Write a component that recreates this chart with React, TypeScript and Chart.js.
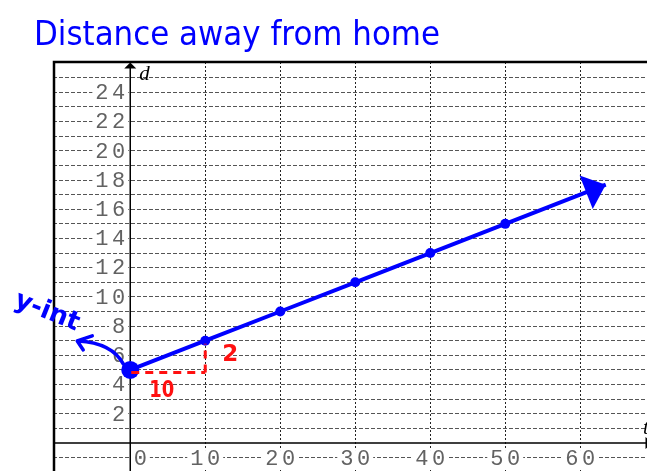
import { useEffect, useRef } from "react";
import { Chart, registerables } from "chart.js";

Chart.register(...registerables);

// ---- data ----
const times = [0, 10, 20, 30, 40, 50];
const distances = [5, 7, 9, 11, 13, 15];
const arrowTipT = 63.4;
const arrowTipD = 17.68;
const pointSizes = [9, 5, 5, 5, 5, 5, 0];

const xGridValues = [10, 20, 30, 40, 50, 60];
const xTickLabels = [0, 10, 20, 30, 40, 50, 60];
const yGridValues = [-1, 1, 2, 3, 4, 5, 6, 7, 8, 9, 10, 11, 12, 13, 14, 15, 16, 17, 18, 19, 20, 21, 22, 23, 24, 25];
const yTickLabels = [2, 4, 6, 8, 10, 12, 14, 16, 18, 20, 22, 24];

const runStartT = 0;
const runEndT = 10;
const runD = 4.83;
const riseTopD = 6.8;
const runText = "10";
const riseText = "2";

const titleText = "Distance away from home";
const interceptText = "y-int";
const xAxisName = "t";
const yAxisName = "d";

const X_MIN = -10.3;
const X_MAX = 68.9;
const Y_MIN = -1.92;
const Y_MAX = 26.08;

const BLUE = "#0000ff";
const RED = "#ff1010";
const LABEL_GREY = "#626262";

function textWidth(ctx: CanvasRenderingContext2D, s: string, spacing: number) {
  return s.split("").reduce((acc, c) => acc + ctx.measureText(c).width, 0) + spacing * (s.length - 1);
}

function drawSpaced(ctx: CanvasRenderingContext2D, text: string, x: number, y: number, align: "left" | "right" | "center", spacing: number) {
  const total = textWidth(ctx, text, spacing);
  let start = x;
  if (align === "right") start = x - total;
  if (align === "center") start = x - total / 2;
  ctx.textAlign = "left";
  let cx = start;
  for (const c of text.split("")) {
    ctx.fillText(c, cx, y);
    cx += ctx.measureText(c).width + spacing;
  }
}

const overlayPlugin = {
  id: "overlay",
  beforeDatasetsDraw(chart: any) {
    const { ctx, chartArea: a, scales } = chart;
    const xs = scales.x;
    const ys = scales.y;
    const x0 = xs.getPixelForValue(0);
    const y0 = ys.getPixelForValue(0);
    ctx.save();

    // tick labels with white backdrop
    ctx.font = '22px "Liberation Mono"';
    ctx.textBaseline = "middle";
    const spacing = 3.5;
    for (const v of yTickLabels) {
      const py = ys.getPixelForValue(v);
      const s = String(v);
      const w = textWidth(ctx, s, spacing);
      const right = x0 - 5;
      ctx.fillStyle = "#ffffff";
      ctx.fillRect(right - w - 3, py - 8, w + 6, 16);
      ctx.fillStyle = LABEL_GREY;
      drawSpaced(ctx, s, right, py + 1, "right", spacing);
    }
    const ly = ys.getPixelForValue(-1) + 1.5;
    for (const v of xTickLabels) {
      const s = String(v);
      const px = xs.getPixelForValue(v) + (v === 0 ? 10 : 0);
      const w = textWidth(ctx, s, spacing);
      ctx.fillStyle = "#ffffff";
      ctx.fillRect(px - w / 2 - 3, ly - 9, w + 6, 18);
      ctx.fillStyle = LABEL_GREY;
      drawSpaced(ctx, s, px, ly, "center", spacing);
    }

    // axes
    ctx.strokeStyle = "#000000";
    ctx.lineWidth = 1.5;
    ctx.beginPath();
    ctx.moveTo(a.left, y0);
    ctx.lineTo(a.right - 1, y0);
    ctx.moveTo(x0, a.bottom);
    ctx.lineTo(x0, a.top + 4);
    ctx.stroke();
    // y-axis arrow head
    ctx.fillStyle = "#000000";
    ctx.beginPath();
    ctx.moveTo(x0, a.top + 0.5);
    ctx.lineTo(x0 - 6, a.top + 6.5);
    ctx.lineTo(x0 + 6, a.top + 6.5);
    ctx.closePath();
    ctx.fill();
    // x-axis arrow head (mostly off canvas)
    ctx.beginPath();
    ctx.moveTo(a.right - 1.5, y0 - 6);
    ctx.lineTo(a.right + 6, y0);
    ctx.lineTo(a.right - 1.5, y0 + 6);
    ctx.closePath();
    ctx.fill();

    // frame (left and top)
    ctx.lineWidth = 2.5;
    ctx.beginPath();
    ctx.moveTo(a.left + 1, a.bottom);
    ctx.lineTo(a.left + 1, a.top);
    ctx.lineTo(a.right, a.top);
    ctx.stroke();

    // axis names
    ctx.font = 'italic 21px "Liberation Serif"';
    ctx.textAlign = "left";
    ctx.textBaseline = "alphabetic";
    ctx.fillText(yAxisName, x0 + 9, a.top + 18);
    ctx.fillText(xAxisName, a.right - 4, y0 - 9);
    ctx.restore();
  },
  afterDatasetsDraw(chart: any) {
    const { ctx, scales } = chart;
    const xs = scales.x;
    const ys = scales.y;
    ctx.save();

    // arrow head at end of line
    const tipX = xs.getPixelForValue(arrowTipT);
    const tipY = ys.getPixelForValue(arrowTipD);
    const fromX = xs.getPixelForValue(times[1]);
    const fromY = ys.getPixelForValue(distances[1]);
    let dx = tipX - fromX;
    let dy = tipY - fromY;
    const len = Math.hypot(dx, dy);
    dx /= len;
    dy /= len;
    const bx = tipX - dx * 21;
    const by = tipY - dy * 21;
    ctx.fillStyle = BLUE;
    ctx.beginPath();
    ctx.moveTo(tipX, tipY);
    ctx.lineTo(bx - dy * 18, by + dx * 18);
    ctx.lineTo(bx + dy * 18, by - dx * 18);
    ctx.closePath();
    ctx.fill();

    // red run / rise
    const rx0 = xs.getPixelForValue(runStartT);
    const rx1 = xs.getPixelForValue(runEndT);
    const ry = ys.getPixelForValue(runD);
    const rTop = ys.getPixelForValue(riseTopD);
    ctx.strokeStyle = RED;
    ctx.lineWidth = 3;
    ctx.setLineDash([8, 6]);
    ctx.beginPath();
    ctx.moveTo(rx0 + 1, ry);
    ctx.lineTo(rx1, ry);
    ctx.moveTo(rx1, ry);
    ctx.lineTo(rx1, rTop);
    ctx.stroke();
    ctx.setLineDash([]);
    ctx.fillStyle = RED;
    ctx.font = 'bold 23px "DejaVu Sans"';
    ctx.textAlign = "center";
    ctx.textBaseline = "middle";
    ctx.fillText(runText, (rx0 + rx1) / 2 - 6, ry + 19, 25);
    ctx.fillText(riseText, rx1 + 25, (ry + rTop) / 2 - 3);

    // y-intercept annotation
    const ix = xs.getPixelForValue(times[0]);
    const iy = ys.getPixelForValue(distances[0]);
    ctx.strokeStyle = BLUE;
    ctx.lineWidth = 3.5;
    ctx.lineCap = "round";
    ctx.lineJoin = "round";
    ctx.beginPath();
    ctx.moveTo(ix - 7, iy - 6);
    ctx.quadraticCurveTo(ix - 18, iy - 27, ix - 52, iy - 29);
    ctx.moveTo(ix - 38, iy - 34);
    ctx.lineTo(ix - 53, iy - 29);
    ctx.lineTo(ix - 47, iy - 20);
    ctx.stroke();

    ctx.save();
    ctx.translate(47, 312);
    ctx.rotate(0.38);
    ctx.fillStyle = BLUE;
    ctx.font = 'bold 26px "DejaVu Sans"';
    ctx.textAlign = "center";
    ctx.textBaseline = "middle";
    ctx.fillText(interceptText, 0, 0, 76);
    ctx.restore();

    ctx.restore();
  },
  afterDraw(chart: any) {
    const { ctx } = chart;
    ctx.save();
    ctx.fillStyle = BLUE;
    ctx.font = '33px "DejaVu Sans"';
    ctx.textAlign = "left";
    ctx.textBaseline = "alphabetic";
    ctx.fillText(titleText, 34, 45, 406);
    ctx.restore();
  },
};

export default function App() {
  const canvasRef = useRef<HTMLCanvasElement | null>(null);

  useEffect(() => {
    const canvas = canvasRef.current;
    if (!canvas) return;
    const points = times.map((t, i) => ({ x: t, y: distances[i] }));
    points.push({ x: arrowTipT, y: arrowTipD });
    const chart = new Chart(canvas, {
      type: "scatter",
      data: {
        datasets: [
          {
            data: points,
            showLine: true,
            borderColor: BLUE,
            backgroundColor: BLUE,
            borderWidth: 4,
            pointRadius: pointSizes,
            pointBorderWidth: 0,
            pointHoverRadius: pointSizes,
            clip: false,
          } as any,
        ],
      },
      options: {
        responsive: false,
        animation: false,
        events: [],
        layout: { autoPadding: false, padding: { left: 53, top: 62, right: 0, bottom: 0 } },
        plugins: {
          legend: { display: false },
          tooltip: { enabled: false },
          title: { display: false },
        },
        scales: {
          x: {
            type: "linear",
            min: X_MIN,
            max: X_MAX,
            ticks: { display: false },
            grid: { color: "#222222", lineWidth: 1, drawTicks: false },
            border: { display: false, dash: [2, 2] },
            afterBuildTicks: (scale: any) => {
              scale.ticks = xGridValues.map((v) => ({ value: v }));
            },
          },
          y: {
            type: "linear",
            min: Y_MIN,
            max: Y_MAX,
            ticks: { display: false },
            grid: { color: "#555555", lineWidth: 1, drawTicks: false },
            border: { display: false, dash: [4, 2] },
            afterBuildTicks: (scale: any) => {
              scale.ticks = yGridValues.map((v) => ({ value: v }));
            },
          },
        },
      } as any,
      plugins: [overlayPlugin],
    });
    return () => chart.destroy();
  }, []);

  return (
    <div style={{ position: "fixed", left: 0, top: 0, width: 647, height: 471, background: "#ffffff" }}>
      <canvas ref={canvasRef} width={647} height={471} style={{ display: "block", width: 647, height: 471 }} />
    </div>
  );
}
